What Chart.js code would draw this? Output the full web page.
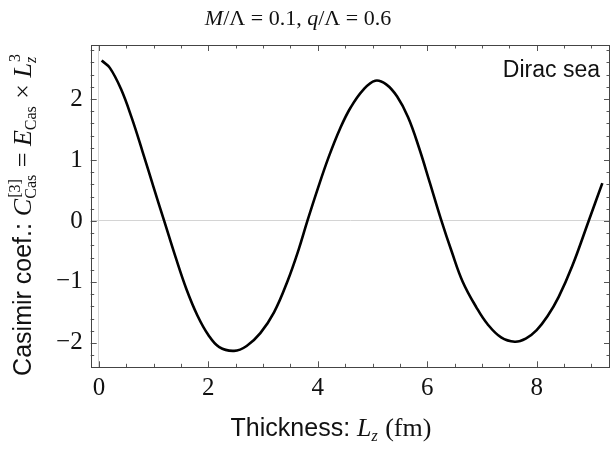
<!DOCTYPE html>
<html>
<head>
<meta charset="utf-8">
<script src="https://cdn.jsdelivr.net/npm/chart.js@4.4.1/dist/chart.umd.min.js"></script>
<style>
  html, body { margin: 0; padding: 0; background: #fff; }
</style>
</head>
<body>
<canvas id="casimir-chart" width="611" height="458"></canvas>
<script>
// values
const thickness = [0.05, 0.2, 0.4, 0.6, 0.8, 1.0, 1.2, 1.4, 1.6, 1.8, 2.0, 2.2, 2.47, 2.7, 2.95,
  3.2, 3.45, 3.65, 3.81, 4.0, 4.2, 4.41, 4.6, 4.83, 5.05, 5.25, 5.45, 5.65, 5.85, 6.05, 6.25,
  6.45, 6.65, 6.9, 7.1, 7.35, 7.6, 7.8, 8.0, 8.2, 8.4, 8.65, 8.95, 9.2];
const casimirCoef = [2.63, 2.51, 2.17, 1.69, 1.13, 0.55, -0.02, -0.59, -1.12, -1.55, -1.87, -2.07, -2.13, -2.05, -1.84,
  -1.50, -0.98, -0.47, 0.0, 0.53, 1.05, 1.52, 1.86, 2.15, 2.30, 2.24, 2.04, 1.70, 1.20, 0.62, 0.03,
  -0.51, -1.00, -1.42, -1.69, -1.91, -1.98, -1.93, -1.79, -1.56, -1.25, -0.74, 0.0, 0.62];
const xTickLabels = [0, 2, 4, 6, 8];
const yTickLabels = [-2, -1, 0, 1, 2];

const TITLE = '22px "Liberation Serif"';
const TITLEI = 'italic 22px "Liberation Serif"';
const SANS = '25px "Liberation Sans"';
const SER = '26px "Liberation Serif"';
const SERI = 'italic 26px "Liberation Serif"';
const SM = '16px "Liberation Serif"';
const SMI = 'italic 16px "Liberation Serif"';

const titleSegs = [
  { t: "M", f: TITLEI }, { t: "/\u039B = 0.1, ", f: TITLE },
  { t: "q", f: TITLEI }, { t: "/\u039B = 0.6", f: TITLE },
];
const xLabelSegs = [
  { t: "Thickness: ", f: SANS },
  { t: "L", f: SERI, sub: "z", subF: SMI },
  { t: " (fm)", f: SER },
];
const yLabelSegs = [
  { t: "Casimir coef.: ", f: SANS },
  { t: "C", f: SERI, sup: "[3]", supF: SM, sub: "Cas", subF: SM },
  { t: " = ", f: SER },
  { t: "E", f: SERI, sub: "Cas", subF: SM },
  { t: " \u00D7 ", f: SER },
  { t: "L", f: SERI, sup: "3", supF: SM, sub: "z", subF: SMI },
];

function segWidth(ctx, s) {
  ctx.font = s.f;
  let w = ctx.measureText(s.t).width;
  let extra = 0;
  if (s.sup) { ctx.font = s.supF; extra = Math.max(extra, ctx.measureText(s.sup).width); }
  if (s.sub) { ctx.font = s.subF; extra = Math.max(extra, ctx.measureText(s.sub).width); }
  return w + extra + (extra ? 1 : 0);
}

function drawRich(ctx, segs, x, y) {
  let total = 0;
  segs.forEach(s => { total += segWidth(ctx, s); });
  let cx = x - total / 2;
  ctx.textAlign = "left";
  ctx.textBaseline = "alphabetic";
  segs.forEach(s => {
    ctx.font = s.f;
    ctx.fillText(s.t, cx, y);
    const w = ctx.measureText(s.t).width;
    if (s.sup) { ctx.font = s.supF; ctx.fillText(s.sup, cx + w + 1, y - 11); }
    if (s.sub) { ctx.font = s.subF; ctx.fillText(s.sub, cx + w, y + 5); }
    cx += segWidth(ctx, s);
  });
}

// frame, inward ticks and text pieces
const decorPlugin = {
  id: "decor",
  afterDraw(chart) {
    const ctx = chart.ctx;
    const a = chart.chartArea;
    const xs = chart.scales.x, ys = chart.scales.y;
    ctx.save();
    ctx.strokeStyle = "#555";
    ctx.lineWidth = 1;
    ctx.beginPath();
    xs.ticks.forEach(t => {
      const p = Math.round(xs.getPixelForValue(t.value)) + 0.5;
      const len = xTickLabels.includes(t.value) ? 6 : 3.5;
      ctx.moveTo(p, a.bottom); ctx.lineTo(p, a.bottom - len);
      ctx.moveTo(p, a.top); ctx.lineTo(p, a.top + len);
    });
    ys.ticks.forEach(t => {
      const p = Math.round(ys.getPixelForValue(t.value)) + 0.5;
      const r = Math.round(t.value);
      const len = Math.abs(t.value - r) < 1e-6 ? 6 : 3.5;
      ctx.moveTo(a.left, p); ctx.lineTo(a.left + len, p);
      ctx.moveTo(a.right, p); ctx.lineTo(a.right - len, p);
    });
    ctx.stroke();
    ctx.strokeStyle = "#444";
    ctx.strokeRect(Math.round(a.left) + 0.5, Math.round(a.top) + 0.5,
      Math.round(a.right - a.left) - 1, Math.round(a.bottom - a.top));

    ctx.fillStyle = "#111";
    drawRich(ctx, titleSegs, 298, 25);
    drawRich(ctx, xLabelSegs, 331, 436);
    ctx.save();
    ctx.translate(31, 215);
    ctx.rotate(-Math.PI / 2);
    drawRich(ctx, yLabelSegs, 0, 0);
    ctx.restore();

    ctx.font = '23px "Liberation Sans"';
    ctx.textAlign = "right";
    ctx.fillText("Dirac sea", 600, 77);
    ctx.restore();
  },
};

const zeroGrid = ctx => (ctx.tick && Math.abs(ctx.tick.value) < 1e-9 ? "#d4d4d4" : "rgba(0,0,0,0)");

const config = {
  type: "line",
  data: {
    datasets: [{
      data: thickness.map((x, i) => ({ x: x, y: casimirCoef[i] })),
      borderColor: "#000",
      borderWidth: 2.6,
      pointRadius: 0,
      tension: 0.4,
      fill: false,
    }],
  },
  options: {
    responsive: false,
    animation: false,
    layout: { padding: { top: 45, right: 1, left: 0, bottom: 0 } },
    plugins: { legend: { display: false }, tooltip: { enabled: false } },
    scales: {
      x: {
        type: "linear",
        min: -0.15,
        max: 9.34,
        afterFit: s => { s.height = 90.7; },
        border: { display: false },
        grid: { color: zeroGrid, drawTicks: false },
        ticks: {
          stepSize: 0.5,
          includeBounds: false,
          autoSkip: false,
          maxRotation: 0,
          padding: 6,
          color: "#111",
          font: { family: "Liberation Serif", size: 25 },
          callback: v => (xTickLabels.includes(v) ? String(v) : ""),
        },
      },
      y: {
        type: "linear",
        min: -2.4,
        max: 2.885,
        afterFit: s => { s.width = 90.7; },
        border: { display: false },
        grid: { color: zeroGrid, drawTicks: false },
        ticks: {
          stepSize: 0.2,
          includeBounds: false,
          autoSkip: false,
          padding: 8,
          color: "#111",
          font: { family: "Liberation Serif", size: 25 },
          callback: v => {
            const r = Math.round(v);
            if (Math.abs(v - r) < 1e-6 && yTickLabels.includes(r)) return (r < 0 ? "\u2212" : "") + Math.abs(r);
            return "";
          },
        },
      },
    },
  },
  plugins: [decorPlugin],
};

let myChart = new Chart(document.getElementById("casimir-chart"), config);
</script>
</body>
</html>
